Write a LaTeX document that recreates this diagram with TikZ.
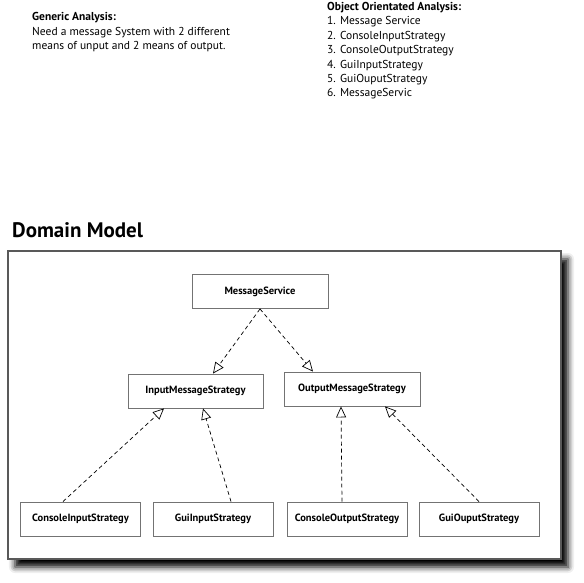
\documentclass[tikz,border=0pt]{standalone}
\usepackage{fontspec}
\setmainfont{PT Sans}
\usetikzlibrary{arrows.meta,shadows.blur}
\tikzset{
  cls/.style={draw=black!55, line width=.9pt, fill=white, minimum height=34pt,
    inner sep=0pt, font=\fontsize{10.5}{12}\selectfont\bfseries},
  impl/.style={line width=.7pt, dash pattern=on 4pt off 3pt,
    -{Triangle[open, length=11pt, width=10pt]}},
  txt/.style={anchor=base west, inner sep=0pt, font=\fontsize{11.5}{13}\selectfont}
}
\begin{document}
\begin{tikzpicture}[x=1pt,y=-1pt]
    \useasboundingbox (0,0) rectangle (584,583);
    % analysis notes
    \node[txt, font=\fontsize{11.5}{13}\selectfont\bfseries] (ga0) at (32,21) {Generic Analysis:};
    \node[txt] (ga1) at (32,35.5) {Need a message System with 2 different};
    \node[txt] (ga2) at (32,50) {means of unput and 2 means of output.};
    \node[txt, font=\fontsize{11.5}{13}\selectfont\bfseries] (oo0) at (327,10.5) {Object Orientated Analysis:};
    \foreach \i/\t in {1/Message Service, 2/ConsoleInputStrategy, 3/ConsoleOutputStrategy,
        4/GuiInputStrategy, 5/GuiOuputStrategy, 6/MessageServic}{
        \node[txt] (oo\i) at (327,10.5+\i*14.4) {\i. \t};
    }
    % domain model
    \node[anchor=base west, inner sep=0pt, font=\fontsize{21}{23}\selectfont\bfseries] (dm) at (12,237) {Domain Model};
    \draw[black!65, line width=1.2pt, fill=white,
        blur shadow={shadow xshift=7pt, shadow yshift=-8pt, shadow blur radius=6pt, shadow opacity=100}]
        (8,251) rectangle (561,559);
    \node[cls, minimum width=136pt] (ms) at (260,291.5) {MessageService};
    \node[cls, minimum width=135pt] (ims) at (195.5,391) {InputMessageStrategy};
    \node[cls, minimum width=136pt] (oms) at (352,389) {OutputMessageStrategy};
    \foreach \n/\x/\t in {ci/80.5/ConsoleInputStrategy, gi/213/GuiInputStrategy,
        co/347/ConsoleOutputStrategy, go/479/GuiOuputStrategy}{
        \node[cls, minimum width=120pt] (\n) at (\x,519) {\t};
    }
    \draw[impl] (ms.south) -- ([xshift=17.5pt]ims.north);
    \draw[impl] (ms.south) -- ([xshift=-39pt]oms.north);
    \draw[impl] ([xshift=-17.5pt]ci.north) -- ([xshift=-31.5pt]ims.south);
    \draw[impl] ([xshift=18pt]gi.north) -- ([xshift=7.5pt]ims.south);
    \draw[impl] ([xshift=-5pt]co.north) -- ([xshift=-11pt]oms.south);
    \draw[impl] (go.north) -- ([xshift=33pt]oms.south);
\end{tikzpicture}
\end{document}
